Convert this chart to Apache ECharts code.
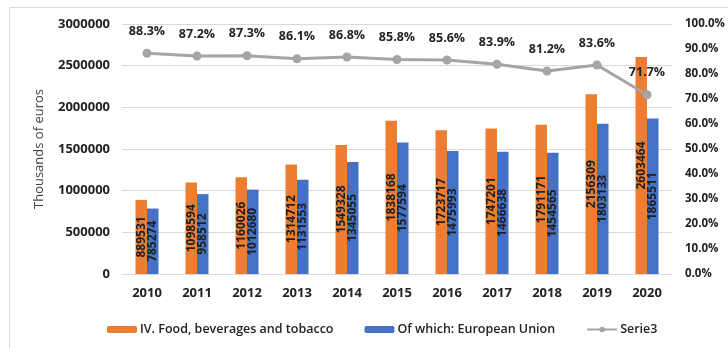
<!DOCTYPE html>
<html><head><meta charset="utf-8">
<script src="https://cdn.jsdelivr.net/npm/echarts@6/dist/echarts.min.js"></script>
<style>html,body{margin:0;padding:0;background:#fff}#c{width:728px;height:348px}</style>
</head><body><div id="c"></div>
<script>
const categories = ['2010','2011','2012','2013','2014','2015','2016','2017','2018','2019','2020'];
const foodValues = [889531,1098594,1160026,1314712,1549328,1838168,1723717,1747201,1791171,2156309,2603464];
const euValues = [785274,958512,1012680,1131553,1345055,1577594,1475993,1466638,1454565,1803133,1865511];
const serie3Values = [88.3,87.2,87.3,86.1,86.8,85.8,85.6,83.9,81.2,83.6,71.7];
const seriesNames = ['IV. Food, beverages and tobacco','Of which: European Union','Serie3'];

const FONT = '"Open Sans", sans-serif';
const chart = echarts.init(document.getElementById('c'), null, {renderer:'canvas'});
const barLabel = {
  show: true, position: 'inside', rotate: 90, color: '#1e1e1e',
  fontFamily: FONT, fontWeight: 'bold', fontSize: 12
};
chart.setOption({
  animation: false,
  graphic: [{type:'rect', shape:{x:9.5,y:7.5,width:740,height:360}, style:{fill:'none', stroke:'#d9d9d9', lineWidth:1}}],
  grid: {left:122, right:56, top:24, bottom:74},
  legend: {
    top: 318, left: 102, itemWidth: 30, itemHeight: 7, itemGap: 31,
    textStyle: {fontFamily: FONT, fontSize: 12.5, color: '#222', fontWeight: 600, padding: [0,0,0,-2]},
    data: seriesNames
  },
  xAxis: {
    type: 'category', data: categories,
    axisLine: {show:true, lineStyle:{color:'#d9d9d9'}}, axisTick: {show:false},
    axisLabel: {margin: 13, color:'#222', fontFamily: FONT, fontWeight:'bold', fontSize: 13}
  },
  yAxis: [{
    type: 'value', min: 0, max: 3000000, interval: 500000,
    name: 'Thousands of euros', nameLocation: 'middle', nameGap: 76, nameRotate: 90,
    nameMoveOverlap: false,
    nameTextStyle: {fontFamily: FONT, fontSize: 13, color: '#444'},
    axisLine:{show:false}, axisTick:{show:false},
    splitLine: {lineStyle:{color:'#d9d9d9'}},
    axisLabel: {margin: 12, color:'#222', fontFamily: FONT, fontWeight:'bold', fontSize: 13,
      formatter: v => String(v)}
  },{
    type: 'value', min: 0, max: 100, interval: 10, position: 'right',
    axisLine:{show:false}, axisTick:{show:false}, splitLine:{show:false},
    axisLabel: {margin: 13, color:'#222', fontFamily: FONT, fontWeight:'bold', fontSize: 11.5,
      formatter: v => v.toFixed(1) + '%'}
  }],
  series: [
    {name: seriesNames[0], type:'bar', data: foodValues, barWidth: 11.5, barGap: '0%',
     itemStyle:{color:'#ED7D31'}, label: barLabel},
    {name: seriesNames[1], type:'bar', data: euValues, barWidth: 11.5, barGap: '0%',
     itemStyle:{color:'#4472C4'}, label: barLabel},
    {name: seriesNames[2], type:'line', yAxisIndex: 1, data: serie3Values,
     symbol:'circle', symbolSize: 9, z: 5,
     lineStyle:{color:'#A5A5A5', width:3}, itemStyle:{color:'#A5A5A5'},
     label:{show:true, position:'top', distance: 11, color:'#222', fontFamily: FONT, fontWeight:'bold', fontSize: 12.5,
       formatter: p => p.value.toFixed(1) + '%'}}
  ]
});
</script></body></html>
